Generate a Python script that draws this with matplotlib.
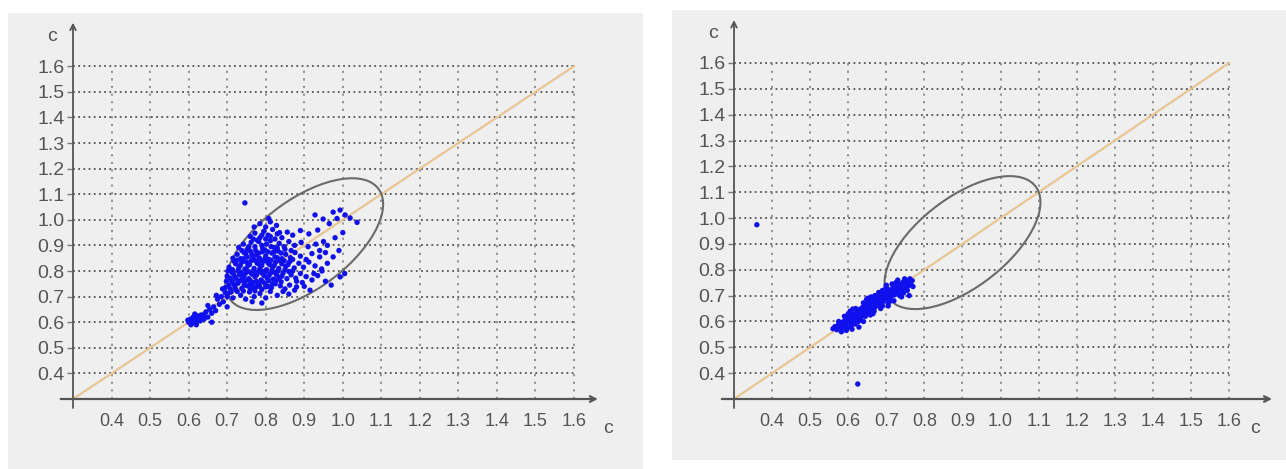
import matplotlib
matplotlib.use('Agg')
import matplotlib.pyplot as plt
from matplotlib.patches import Ellipse, Rectangle

plt.rcParams['font.family'] = ['Liberation Sans Narrow', 'Liberation Sans', 'DejaVu Sans']

# Tick values shared by both panels
ticks = [0.4, 0.5, 0.6, 0.7, 0.8, 0.9, 1.0, 1.1, 1.2, 1.3, 1.4, 1.5, 1.6]
tick_labels = ['0.4', '0.5', '0.6', '0.7', '0.8', '0.9', '1.0', '1.1', '1.2', '1.3', '1.4', '1.5', '1.6']
axis_label = 'c'

# Left panel points (x, y)
left_pts = [
    (0.600, 0.600), (0.605, 0.612), (0.610, 0.598), (0.612, 0.620), (0.615, 0.605), (0.618, 0.615),
    (0.620, 0.600), (0.622, 0.625), (0.625, 0.610), (0.628, 0.618), (0.630, 0.605), (0.632, 0.628),
    (0.606, 0.590), (0.598, 0.608), (0.616, 0.632), (0.635, 0.615), (0.640, 0.630), (0.645, 0.640),
    (0.640, 0.612), (0.620, 0.590),
    (0.650, 0.620), (0.655, 0.650), (0.660, 0.635), (0.665, 0.660), (0.670, 0.645), (0.675, 0.690),
    (0.680, 0.670), (0.685, 0.700), (0.690, 0.680), (0.695, 0.715), (0.660, 0.600), (0.700, 0.660),
    (0.672, 0.705), (0.688, 0.730), (0.650, 0.665),
    (0.702, 0.712), (0.715, 0.695), (0.722, 0.728), (0.735, 0.705), (0.748, 0.690), (0.758, 0.718),
    (0.770, 0.700), (0.785, 0.712), (0.800, 0.695), (0.812, 0.720), (0.765, 0.680), (0.830, 0.705),
    (0.790, 0.675),
    (0.705, 0.745), (0.712, 0.760), (0.720, 0.738), (0.728, 0.752), (0.738, 0.732), (0.745, 0.758),
    (0.752, 0.742), (0.760, 0.730), (0.768, 0.755), (0.775, 0.738), (0.782, 0.748), (0.790, 0.728),
    (0.798, 0.752), (0.806, 0.740), (0.815, 0.735), (0.825, 0.750), (0.838, 0.742), (0.850, 0.730),
    (0.862, 0.745), (0.880, 0.738), (0.742, 0.722), (0.772, 0.722),
    (0.700, 0.780), (0.708, 0.772), (0.716, 0.790), (0.724, 0.768), (0.732, 0.785), (0.740, 0.775),
    (0.748, 0.792), (0.756, 0.770), (0.764, 0.788), (0.772, 0.778), (0.780, 0.795), (0.788, 0.765),
    (0.796, 0.782), (0.804, 0.772), (0.812, 0.790), (0.820, 0.768), (0.828, 0.785), (0.836, 0.775),
    (0.845, 0.792), (0.855, 0.770), (0.866, 0.785), (0.878, 0.772), (0.890, 0.790), (0.905, 0.778),
    (0.920, 0.765), (0.935, 0.782), (0.760, 0.762), (0.790, 0.800),
    (0.705, 0.815), (0.714, 0.805), (0.722, 0.828), (0.730, 0.812), (0.738, 0.835), (0.746, 0.808),
    (0.754, 0.822), (0.762, 0.840), (0.770, 0.810), (0.778, 0.830), (0.786, 0.818), (0.794, 0.838),
    (0.802, 0.805), (0.810, 0.825), (0.818, 0.815), (0.826, 0.835), (0.834, 0.810), (0.842, 0.828),
    (0.852, 0.818), (0.862, 0.836), (0.874, 0.812), (0.886, 0.830), (0.898, 0.815), (0.912, 0.835),
    (0.928, 0.820), (0.945, 0.808), (0.960, 0.830),
    (0.715, 0.850), (0.726, 0.865), (0.735, 0.848), (0.744, 0.872), (0.752, 0.855), (0.760, 0.878),
    (0.768, 0.845), (0.776, 0.862), (0.784, 0.850), (0.792, 0.875), (0.800, 0.858), (0.808, 0.845),
    (0.816, 0.870), (0.824, 0.855), (0.832, 0.878), (0.842, 0.848), (0.852, 0.865), (0.864, 0.852),
    (0.876, 0.872), (0.890, 0.858), (0.905, 0.845), (0.920, 0.868), (0.940, 0.855), (0.955, 0.872),
    (0.730, 0.892), (0.742, 0.905), (0.752, 0.885), (0.762, 0.912), (0.772, 0.895), (0.782, 0.915),
    (0.792, 0.888), (0.802, 0.905), (0.812, 0.918), (0.822, 0.892), (0.835, 0.908), (0.848, 0.895),
    (0.860, 0.915), (0.875, 0.900), (0.892, 0.912), (0.910, 0.895), (0.930, 0.905), (0.950, 0.915),
    (0.760, 0.935), (0.772, 0.948), (0.785, 0.930), (0.795, 0.955), (0.806, 0.940), (0.818, 0.962),
    (0.830, 0.945), (0.842, 0.930), (0.856, 0.952), (0.870, 0.940), (0.890, 0.958), (0.912, 0.945),
    (0.935, 0.960),
    (0.785, 0.985), (0.800, 0.972), (0.812, 0.992), (0.828, 0.978), (0.770, 0.972), (0.746, 1.066),
    (0.808, 1.005),
    (0.928, 1.019), (0.949, 1.003), (0.975, 1.030), (0.993, 1.038), (1.006, 1.019), (1.019, 1.007),
    (1.037, 0.990), (0.993, 0.777), (0.946, 0.800), (0.965, 0.985), (0.985, 1.005), (0.975, 0.855),
    (0.990, 0.880), (0.960, 0.900), (0.980, 0.930), (1.000, 0.950), (0.940, 0.880), (0.925, 0.790),
    (0.955, 0.760), (0.970, 0.745), (0.900, 0.740), (0.915, 0.725), (0.895, 0.755), (0.880, 0.760),
    (1.005, 0.790), (0.845, 0.720), (0.860, 0.710), (0.875, 0.725),
    # dense core
    (0.708, 0.730), (0.718, 0.748), (0.726, 0.720), (0.734, 0.762), (0.744, 0.745), (0.752, 0.765),
    (0.760, 0.748), (0.768, 0.735), (0.776, 0.760), (0.784, 0.740), (0.792, 0.758), (0.800, 0.738),
    (0.808, 0.762), (0.818, 0.750), (0.828, 0.765), (0.840, 0.758),
    (0.712, 0.795), (0.720, 0.778), (0.728, 0.800), (0.736, 0.795), (0.744, 0.782), (0.752, 0.802),
    (0.760, 0.795), (0.768, 0.800), (0.776, 0.785), (0.784, 0.805), (0.792, 0.790), (0.800, 0.798),
    (0.808, 0.780), (0.816, 0.802), (0.824, 0.795), (0.832, 0.800), (0.842, 0.780), (0.850, 0.805),
    (0.860, 0.798), (0.870, 0.800),
    (0.718, 0.838), (0.726, 0.842), (0.734, 0.822), (0.742, 0.848), (0.750, 0.835), (0.758, 0.825),
    (0.766, 0.852), (0.774, 0.840), (0.782, 0.838), (0.790, 0.822), (0.798, 0.848), (0.806, 0.832),
    (0.814, 0.842), (0.822, 0.822), (0.830, 0.852), (0.838, 0.840), (0.848, 0.840), (0.858, 0.825),
    (0.870, 0.845),
    (0.738, 0.880), (0.748, 0.868), (0.756, 0.895), (0.764, 0.865), (0.774, 0.880), (0.782, 0.870),
    (0.790, 0.900), (0.798, 0.882), (0.806, 0.875), (0.814, 0.895), (0.822, 0.875), (0.830, 0.890),
    (0.840, 0.870), (0.850, 0.885), (0.866, 0.880),
    (0.768, 0.925), (0.778, 0.920), (0.790, 0.940), (0.800, 0.925), (0.812, 0.935), (0.824, 0.925),
    (0.836, 0.950),
    (0.700, 0.700), (0.710, 0.718), (0.695, 0.735), (0.698, 0.760), (0.702, 0.800),
]

# Right panel points (x, y)
right_pts = [
    (0.560, 0.572), (0.565, 0.580), (0.570, 0.568), (0.575, 0.590), (0.578, 0.578), (0.582, 0.595),
    (0.585, 0.575), (0.588, 0.600), (0.590, 0.585), (0.593, 0.608), (0.596, 0.592), (0.598, 0.575),
    (0.600, 0.612), (0.603, 0.598), (0.605, 0.620), (0.608, 0.585), (0.610, 0.605), (0.612, 0.628),
    (0.615, 0.595), (0.617, 0.615), (0.620, 0.632), (0.622, 0.605), (0.624, 0.622), (0.626, 0.640),
    (0.628, 0.610), (0.630, 0.628), (0.632, 0.648), (0.634, 0.618), (0.636, 0.636), (0.638, 0.655),
    (0.640, 0.625), (0.642, 0.645), (0.645, 0.662), (0.647, 0.632), (0.650, 0.652), (0.652, 0.670),
    (0.655, 0.640), (0.657, 0.660), (0.660, 0.678), (0.662, 0.648), (0.665, 0.668), (0.668, 0.685),
    (0.670, 0.655), (0.672, 0.675), (0.675, 0.692), (0.678, 0.662), (0.680, 0.682), (0.683, 0.700),
    (0.686, 0.670), (0.688, 0.690), (0.690, 0.708), (0.693, 0.678), (0.696, 0.698), (0.699, 0.715),
    (0.702, 0.688), (0.705, 0.705), (0.708, 0.722), (0.711, 0.695), (0.714, 0.712), (0.717, 0.730),
    (0.720, 0.702), (0.723, 0.720), (0.726, 0.738), (0.729, 0.710), (0.732, 0.728), (0.735, 0.745),
    (0.738, 0.718), (0.741, 0.735), (0.744, 0.752), (0.747, 0.725), (0.750, 0.742), (0.753, 0.758),
    (0.756, 0.735), (0.759, 0.750), (0.762, 0.765), (0.765, 0.742), (0.760, 0.700), (0.740, 0.695),
    (0.720, 0.680),
    (0.598, 0.600), (0.606, 0.610), (0.614, 0.618), (0.621, 0.614), (0.627, 0.625), (0.633, 0.632),
    (0.639, 0.640), (0.644, 0.650), (0.649, 0.640), (0.654, 0.655), (0.659, 0.665), (0.664, 0.660),
    (0.669, 0.670), (0.674, 0.680), (0.679, 0.675), (0.684, 0.688), (0.689, 0.695), (0.694, 0.690),
    (0.699, 0.700), (0.704, 0.712), (0.709, 0.708), (0.714, 0.720), (0.719, 0.715), (0.724, 0.728),
    (0.730, 0.735), (0.588, 0.588), (0.580, 0.585), (0.572, 0.578), (0.610, 0.570), (0.625, 0.598),
    (0.645, 0.620), (0.668, 0.640), (0.690, 0.660), (0.700, 0.735), (0.680, 0.712), (0.660, 0.695),
    (0.640, 0.672), (0.620, 0.650), (0.600, 0.630), (0.628, 0.578),
    (0.575, 0.600), (0.590, 0.620), (0.605, 0.640), (0.618, 0.590), (0.632, 0.605), (0.648, 0.685),
    (0.658, 0.625), (0.670, 0.700), (0.685, 0.650), (0.698, 0.725), (0.712, 0.680), (0.725, 0.750),
    (0.735, 0.700), (0.748, 0.765), (0.755, 0.720), (0.768, 0.758), (0.770, 0.735), (0.745, 0.710),
    (0.705, 0.670), (0.612, 0.648), (0.595, 0.565), (0.582, 0.560), (0.640, 0.600), (0.700, 0.740),
    (0.715, 0.745), (0.730, 0.760), (0.705, 0.660), (0.665, 0.630), (0.690, 0.720), (0.652, 0.690),
    (0.360, 0.974), (0.625, 0.358),
]

# Confidence ellipse (same in both panels)
ell_center = (0.900, 0.905)
ell_width = 0.594
ell_height = 0.282
ell_angle = 55.4

W, H = 1286, 469
fig = plt.figure(figsize=(W / 100, H / 100), dpi=100)

# light gray panel backgrounds
for x0, y0, x1, y1 in [(8, 13, 643, 469), (672, 10, 1286, 460)]:
    fig.add_artist(Rectangle((x0 / W, 1 - y1 / H), (x1 - x0) / W, (y1 - y0) / H,
                             transform=fig.transFigure, facecolor='#efefef',
                             edgecolor='none', zorder=0))

panels = [
    (left_pts, [73 / W, 70 / H, 14 * 38.54 / W, 15 * 25.6 / H], 1.662, 1.77, 1.688),
    (right_pts, [734 / W, 70 / H, 14 * 38.08 / W, 15 * 25.85 / H], 1.713, 1.766, 1.668),
]

for pts, rect, xtip, ytip, xlab in panels:
    ax = fig.add_axes(rect)
    ax.set_facecolor('none')
    ax.set_xlim(0.3, 1.7)
    ax.set_ylim(0.3, 1.8)
    for s in ax.spines.values():
        s.set_visible(False)

    # grid
    ax.hlines(ticks, 0.3, 1.6, colors='#3a3a3a', linestyles=(0, (1.2, 2.2)), lw=1.1, zorder=1)
    ax.vlines(ticks, 0.3, 1.6, colors='#8a8a8a', linestyles=(0, (1.2, 3.0)), lw=1.3, zorder=1)

    # axes with arrows
    ax.annotate('', xy=(xtip, 0.3), xytext=(0.268, 0.3), annotation_clip=False,
                arrowprops=dict(arrowstyle='->', color='#555555', lw=1.6, shrinkA=0, shrinkB=0))
    ax.annotate('', xy=(0.3, ytip), xytext=(0.3, 0.265), annotation_clip=False,
                arrowprops=dict(arrowstyle='->', color='#555555', lw=1.3, shrinkA=0, shrinkB=0))

    # diagonal
    ax.plot([0.3, 1.6], [0.3, 1.6], color='#e8c593', lw=1.6, zorder=2)

    # ellipse
    ax.add_patch(Ellipse(ell_center, ell_width, ell_height, angle=ell_angle,
                         fill=False, edgecolor='#6a6a6a', lw=1.5, zorder=3))

    xs = [p[0] for p in pts]
    ys = [p[1] for p in pts]
    ax.scatter(xs, ys, s=15, color='#1010ee', edgecolors='none', zorder=4)

    ax.set_xticks(ticks)
    ax.set_xticklabels(tick_labels)
    ax.set_yticks(ticks)
    ax.set_yticklabels(tick_labels)
    ax.tick_params(axis='x', length=0, pad=10, labelsize=13, labelcolor='#555555')
    ax.tick_params(axis='y', length=4, width=1, color='#777777', pad=2,
                   labelsize=14, labelcolor='#555555')

    ax.text(0.245, 1.715, axis_label, fontsize=14, color='#555555', ha='center', va='center')
    ax.text(xlab, 0.185, axis_label, fontsize=14, color='#555555', ha='center', va='center',
            clip_on=False)

fig.savefig('out.png', dpi=100, facecolor='white')
